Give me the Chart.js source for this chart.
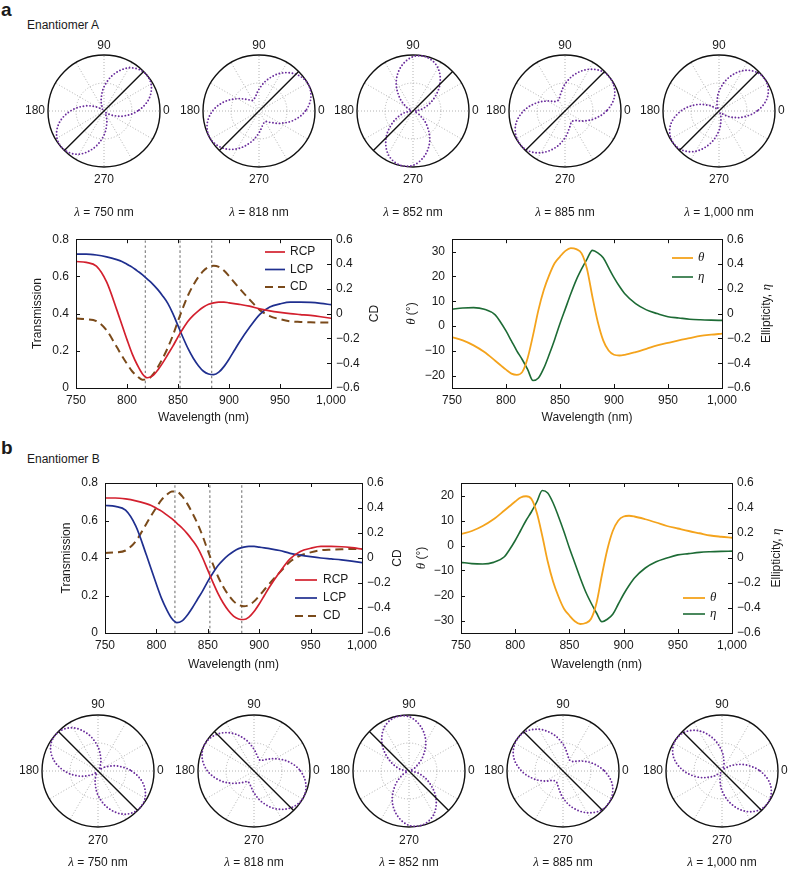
<!DOCTYPE html>
<html>
<head>
<meta charset="utf-8">
<script src="https://cdn.jsdelivr.net/npm/chart.js@4.4.0/dist/chart.umd.min.js"></script>
<style>
  body { margin: 0; background: #fff; }
  #fig { position: relative; width: 788px; height: 870px; overflow: hidden; background: #fff;
         font-family: "Liberation Sans", Arial, Helvetica, sans-serif; color: #1a1a1a; }
  #fig canvas { position: absolute; }
  .lbl { position: absolute; white-space: nowrap; line-height: 1; }
</style>
</head>
<body>
<div id="fig">
  <div class="lbl" style="left:1px;top:0px;font-size:19px;font-weight:bold">a</div>
  <div class="lbl" style="left:27px;top:19px;font-size:12px">Enantiomer A</div>
  <div class="lbl" style="left:1px;top:438px;font-size:19px;font-weight:bold">b</div>
  <div class="lbl" style="left:27px;top:453px;font-size:12px">Enantiomer B</div>
</div>
<script>
// ---- data ----
const wl = [750, 760, 770, 780, 790, 795, 800, 805, 810, 815, 820, 825, 830, 835, 840, 845, 850, 855, 860, 865,
            870, 875, 880, 885, 890, 895, 900, 905, 910, 920, 930, 940, 950, 960, 970, 980, 990, 1000];

// enantiomer A
const rcpA = [0.68, 0.675, 0.655, 0.57, 0.42, 0.34, 0.26, 0.185, 0.125, 0.077, 0.055, 0.065, 0.095, 0.135, 0.18, 0.225, 0.275, 0.32, 0.36, 0.39,
              0.415, 0.435, 0.45, 0.458, 0.462, 0.462, 0.458, 0.454, 0.45, 0.44, 0.425, 0.415, 0.407, 0.40, 0.395, 0.39, 0.383, 0.375];
const lcpA = [0.72, 0.72, 0.715, 0.705, 0.69, 0.68, 0.665, 0.65, 0.63, 0.61, 0.585, 0.56, 0.53, 0.495, 0.455, 0.40, 0.335, 0.27, 0.21, 0.16,
              0.12, 0.09, 0.075, 0.072, 0.085, 0.115, 0.155, 0.20, 0.245, 0.325, 0.395, 0.435, 0.452, 0.462, 0.462, 0.46, 0.455, 0.448];
const cdA = [-0.04, -0.045, -0.06, -0.135, -0.27, -0.34, -0.405, -0.465, -0.505, -0.533, -0.53, -0.495, -0.435, -0.36, -0.275, -0.175, -0.06, 0.05, 0.15, 0.23,
             0.295, 0.345, 0.375, 0.386, 0.377, 0.347, 0.303, 0.254, 0.205, 0.115, 0.03, -0.02, -0.045, -0.062, -0.067, -0.07, -0.072, -0.073];
const thetaA = [-4.5, -5.8, -7.8, -10.5, -14, -15.8, -17.6, -19.2, -19.7, -18.6, -13, -3.8, 6.4, 14.5, 20.5, 25.3, 28, 30.3, 31.4, 31,
                29.3, 23, 11.8, 1.6, -5.8, -9.9, -11.6, -11.9, -11.6, -10.5, -9.2, -7.8, -6.8, -5.8, -4.9, -4, -3.5, -3.1];
const etaA = [0.035, 0.045, 0.048, 0.035, -0.01, -0.07, -0.14, -0.22, -0.30, -0.37, -0.45, -0.54, -0.52, -0.44, -0.33, -0.21, -0.08, 0.04, 0.16, 0.27,
              0.36, 0.44, 0.51, 0.49, 0.45, 0.37, 0.29, 0.22, 0.16, 0.08, 0.03, 0, -0.025, -0.035, -0.045, -0.05, -0.053, -0.055];

// enantiomer B
const rcpB = [0.72, 0.72, 0.715, 0.705, 0.69, 0.68, 0.665, 0.65, 0.63, 0.61, 0.585, 0.56, 0.53, 0.495, 0.455, 0.40, 0.335, 0.27, 0.21, 0.16,
              0.12, 0.09, 0.075, 0.072, 0.085, 0.115, 0.155, 0.20, 0.245, 0.325, 0.395, 0.435, 0.452, 0.462, 0.462, 0.46, 0.455, 0.448];
const lcpB = [0.68, 0.675, 0.655, 0.57, 0.42, 0.34, 0.26, 0.185, 0.125, 0.077, 0.055, 0.065, 0.095, 0.135, 0.18, 0.225, 0.275, 0.32, 0.36, 0.39,
              0.415, 0.435, 0.45, 0.458, 0.462, 0.462, 0.458, 0.454, 0.45, 0.44, 0.425, 0.415, 0.407, 0.40, 0.395, 0.39, 0.383, 0.375];
const cdB = [0.04, 0.045, 0.06, 0.135, 0.27, 0.34, 0.405, 0.465, 0.505, 0.533, 0.53, 0.495, 0.435, 0.36, 0.275, 0.175, 0.06, -0.05, -0.15, -0.23,
             -0.295, -0.345, -0.375, -0.386, -0.377, -0.347, -0.303, -0.254, -0.205, -0.115, -0.03, 0.02, 0.045, 0.062, 0.067, 0.07, 0.072, 0.073];
const thetaB = [4.5, 5.8, 7.8, 10.5, 14, 15.8, 17.6, 19.2, 19.7, 18.6, 13, 3.8, -6.4, -14.5, -20.5, -25.3, -28, -30.3, -31.4, -31,
                -29.3, -23, -11.8, -1.6, 5.8, 9.9, 11.6, 11.9, 11.6, 10.5, 9.2, 7.8, 6.8, 5.8, 4.9, 4, 3.5, 3.1];
const etaB = [-0.035, -0.045, -0.048, -0.035, 0.01, 0.07, 0.14, 0.22, 0.30, 0.37, 0.45, 0.54, 0.52, 0.44, 0.33, 0.21, 0.08, -0.04, -0.16, -0.27,
              -0.36, -0.44, -0.51, -0.49, -0.45, -0.37, -0.29, -0.22, -0.16, -0.08, -0.03, 0, 0.025, 0.035, 0.045, 0.05, 0.053, 0.055];

const markerWl = [818, 852, 883];

// axes
const wlRange = [750, 1000];
const wlTicks = [750, 800, 850, 900, 950, 1000];
const transRange = [0, 0.8];
const transTicks = [0, 0.2, 0.4, 0.6, 0.8];
const cdRange = [-0.6, 0.6];
const cdTicks = [-0.6, -0.4, -0.2, 0, 0.2, 0.4, 0.6];
const thetaRangeA = [-25, 35];
const thetaTicksA = [-20, -10, 0, 10, 20, 30];
const thetaRangeB = [-35, 25];
const thetaTicksB = [-30, -20, -10, 0, 10, 20];
const etaRange = [-0.6, 0.6];
const etaTicks = [-0.6, -0.4, -0.2, 0, 0.2, 0.4, 0.6];

// polar plots: analyser angle (deg) and normalised transmitted intensity
const angles = [0, 15, 30, 45, 60, 75, 90, 105, 120, 135, 150, 165,
                180, 195, 210, 225, 240, 255, 270, 285, 300, 315, 330, 345];
const polarTickAngles = [0, 90, 180, 270];
const polarWl = [750, 818, 852, 885, 1000];
const polA750 = [0.60, 0.83, 0.97, 0.99, 0.89, 0.68, 0.43, 0.20, 0.06, 0.04, 0.14, 0.35,
                 0.60, 0.83, 0.97, 0.99, 0.89, 0.68, 0.43, 0.20, 0.06, 0.04, 0.14, 0.35];
const polA818 = [0.83, 0.96, 1.00, 0.93, 0.78, 0.58, 0.39, 0.26, 0.22, 0.29, 0.44, 0.64,
                 0.83, 0.96, 1.00, 0.93, 0.78, 0.58, 0.39, 0.26, 0.22, 0.29, 0.44, 0.64];
const polA852 = [0.05, 0.20, 0.42, 0.68, 0.89, 0.99, 0.97, 0.82, 0.60, 0.34, 0.13, 0.03,
                 0.05, 0.20, 0.42, 0.68, 0.89, 0.99, 0.97, 0.82, 0.60, 0.34, 0.13, 0.03];
const polA885 = [0.74, 0.91, 0.99, 0.98, 0.86, 0.68, 0.48, 0.31, 0.23, 0.24, 0.36, 0.54,
                 0.74, 0.91, 0.99, 0.98, 0.86, 0.68, 0.48, 0.31, 0.23, 0.24, 0.36, 0.54];
const polA1000 = [0.68, 0.89, 0.99, 0.97, 0.83, 0.60, 0.35, 0.14, 0.04, 0.06, 0.20, 0.43,
                  0.68, 0.89, 0.99, 0.97, 0.83, 0.60, 0.35, 0.14, 0.04, 0.06, 0.20, 0.43];
const polB750 = [0.60, 0.35, 0.14, 0.04, 0.06, 0.20, 0.43, 0.68, 0.89, 0.99, 0.97, 0.83,
                 0.60, 0.35, 0.14, 0.04, 0.06, 0.20, 0.43, 0.68, 0.89, 0.99, 0.97, 0.83];
const polB818 = [0.83, 0.64, 0.44, 0.29, 0.22, 0.26, 0.39, 0.58, 0.78, 0.93, 1.00, 0.96,
                 0.83, 0.64, 0.44, 0.29, 0.22, 0.26, 0.39, 0.58, 0.78, 0.93, 1.00, 0.96];
const polB852 = [0.05, 0.03, 0.13, 0.34, 0.60, 0.82, 0.97, 0.99, 0.89, 0.68, 0.42, 0.20,
                 0.05, 0.03, 0.13, 0.34, 0.60, 0.82, 0.97, 0.99, 0.89, 0.68, 0.42, 0.20];
const polB885 = [0.74, 0.54, 0.36, 0.24, 0.23, 0.31, 0.48, 0.68, 0.86, 0.98, 0.99, 0.91,
                 0.74, 0.54, 0.36, 0.24, 0.23, 0.31, 0.48, 0.68, 0.86, 0.98, 0.99, 0.91];
const polB1000 = [0.68, 0.43, 0.20, 0.06, 0.04, 0.14, 0.35, 0.60, 0.83, 0.97, 0.99, 0.89,
                  0.68, 0.43, 0.20, 0.06, 0.04, 0.14, 0.35, 0.60, 0.83, 0.97, 0.99, 0.89];
const refAxisA = 45;   // incident polarisation, degrees
const refAxisB = 135;

// ---- styling ----
const FONT = '"Liberation Sans", Arial, Helvetica, sans-serif';
const GREEK = '"Liberation Serif", "Times New Roman", serif';
const INK = '#1a1a1a';
const RED = '#d3202e', BLUE = '#1f2f8f', BROWN = '#7a4a1a', ORANGE = '#f4a31c', GREEN = '#1d6b35',
      PURPLE = '#6a2c9c', GREY = '#8c8c8c';

Chart.defaults.font.family = FONT;
Chart.defaults.font.size = 12;
Chart.defaults.color = INK;

const fig = document.getElementById('fig');

function mk(left, top, w, h) {
  const c = document.createElement('canvas');
  c.width = w; c.height = h;
  c.style.left = left + 'px'; c.style.top = top + 'px';
  c.style.width = w + 'px'; c.style.height = h + 'px';
  fig.appendChild(c);
  return c;
}

function fmt(v) {
  return (v < 0 ? '\u2212' : '') + Math.abs(v).toLocaleString('en-US');
}

// draw text made of plain / italic-greek parts
function drawParts(ctx, parts, x, y, align, rot) {
  const fontOf = p => p.g ? 'italic 13px ' + GREEK : '12px ' + FONT;
  ctx.save();
  ctx.translate(x, y);
  if (rot) ctx.rotate(rot);
  let w = 0;
  parts.forEach(p => { ctx.font = fontOf(p); w += ctx.measureText(p.t).width; });
  let cx = align === 'center' ? -w / 2 : (align === 'right' ? -w : 0);
  ctx.textAlign = 'left';
  ctx.textBaseline = 'middle';
  ctx.fillStyle = INK;
  parts.forEach(p => {
    ctx.font = fontOf(p);
    ctx.fillText(p.t, cx, 0);
    cx += ctx.measureText(p.t).width;
  });
  ctx.restore();
}

// box + inward ticks like the original figure
const frameTicks = {
  id: 'frameTicks',
  afterDatasetsDraw(chart) {
    const { ctx, chartArea: a } = chart;
    ctx.save();
    ctx.strokeStyle = '#111';
    ctx.lineWidth = 1;
    ctx.setLineDash([]);
    ctx.strokeRect(Math.round(a.left) + 0.5, Math.round(a.top) + 0.5,
                   Math.round(a.right - a.left), Math.round(a.bottom - a.top));
    ctx.beginPath();
    Object.values(chart.scales).forEach(s => {
      s.ticks.forEach(t => {
        const p = Math.round(s.getPixelForValue(t.value)) + 0.5;
        if (s.axis === 'x') {
          ctx.moveTo(p, a.bottom); ctx.lineTo(p, a.bottom - 4);
          ctx.moveTo(p, a.top); ctx.lineTo(p, a.top + 4);
        } else if (s.position === 'left') {
          ctx.moveTo(a.left, p); ctx.lineTo(a.left + 4, p);
        } else {
          ctx.moveTo(a.right, p); ctx.lineTo(a.right - 4, p);
        }
      });
    });
    ctx.stroke();
    ctx.restore();
  }
};

function titlesPlugin(t) {
  return {
    id: 'axisTitles',
    afterDraw(chart) {
      const { ctx, chartArea: a } = chart;
      const my = (a.top + a.bottom) / 2, mx = (a.left + a.right) / 2;
      drawParts(ctx, t.left, t.lx, my, 'center', -Math.PI / 2);
      drawParts(ctx, t.right, t.rx, my, 'center', -Math.PI / 2);
      drawParts(ctx, [{ t: 'Wavelength (nm)' }], mx, t.by, 'center', 0);
    }
  };
}

function legendPlugin(L) {
  return {
    id: 'cornerLegend',
    afterDraw(chart) {
      const ctx = chart.ctx;
      L.items.forEach((it, i) => {
        const ds = chart.data.datasets[it.ds];
        const y = L.y0 + i * L.dy;
        ctx.save();
        ctx.strokeStyle = ds.borderColor;
        ctx.lineWidth = ds.borderWidth || 1.6;
        ctx.setLineDash(ds.borderDash || []);
        ctx.beginPath();
        ctx.moveTo(L.x0, y); ctx.lineTo(L.x1, y);
        ctx.stroke();
        ctx.restore();
        drawParts(ctx, it.parts, L.tx, y, 'left', 0);
      });
    }
  };
}

function axis(pos, range, ticks, size, pad) {
  return {
    type: 'linear', position: pos, min: range[0], max: range[1],
    grid: { display: false, drawTicks: false },
    border: { display: false },
    ticks: { padding: pad, maxRotation: 0, autoSkip: false, color: INK, font: { size: 12 }, callback: v => fmt(v) },
    afterBuildTicks: s => { s.ticks = ticks.map(v => ({ value: v })); },
    afterFit: s => { if (s.isHorizontal()) s.height = size; else s.width = size; }
  };
}

function pts(xs, ys) {
  return xs.map((x, i) => ({ x: x, y: ys[i] }));
}

function markerSets() {
  return markerWl.map(w => ({
    data: [{ x: w, y: transRange[0] }, { x: w, y: transRange[1] }],
    yAxisID: 'y', borderColor: GREY, borderWidth: 1.3, borderDash: [2.5, 2.5]
  }));
}

function lineChart(box, sc, sets, titles, legend) {
  const cv = mk(box.left, box.top, box.w, box.h);
  return new Chart(cv, {
    type: 'line',
    data: { datasets: sets },
    options: {
      responsive: false, animation: false, events: [],
      layout: { padding: { top: box.pt, left: 0, right: 0, bottom: 0 } },
      plugins: { legend: { display: false }, tooltip: { enabled: false } },
      elements: { point: { radius: 0 }, line: { borderWidth: 1.6, cubicInterpolationMode: 'monotone' } },
      scales: {
        x: axis('bottom', wlRange, wlTicks, box.xh, 5),
        y: axis('left', sc.left, sc.leftTicks, box.lw, 7),
        y1: axis('right', sc.right, sc.rightTicks, box.rw, 5)
      }
    },
    plugins: [frameTicks, titlesPlugin(titles), legendPlugin(legend)]
  });
}

function transSets(rcp, lcp, cd) {
  return [
    { data: pts(wl, rcp), yAxisID: 'y', borderColor: RED, borderWidth: 1.7 },
    { data: pts(wl, lcp), yAxisID: 'y', borderColor: BLUE, borderWidth: 1.7 },
    { data: pts(wl, cd), yAxisID: 'y1', borderColor: BROWN, borderWidth: 2, borderDash: [8, 5] }
  ].concat(markerSets());
}

function rotSets(theta, eta) {
  return [
    { data: pts(wl, theta), yAxisID: 'y', borderColor: ORANGE, borderWidth: 1.8 },
    { data: pts(wl, eta), yAxisID: 'y1', borderColor: GREEN, borderWidth: 1.6 }
  ];
}

const transScales = { left: transRange, leftTicks: transTicks, right: cdRange, rightTicks: cdTicks };
const transTitles = (lx, rx, by) => ({ left: [{ t: 'Transmission' }], lx: lx, right: [{ t: 'CD' }], rx: rx, by: by });
const rotTitles = (lx, rx, by) => ({ left: [{ t: '\u03b8', g: true }, { t: ' (\u00b0)' }], lx: lx,
                                     right: [{ t: 'Ellipticity, ' }, { t: '\u03b7', g: true }], rx: rx, by: by });
const transLegend = [{ ds: 0, parts: [{ t: 'RCP' }] }, { ds: 1, parts: [{ t: 'LCP' }] }, { ds: 2, parts: [{ t: 'CD' }] }];
const rotLegend = [{ ds: 0, parts: [{ t: '\u03b8', g: true }] }, { ds: 1, parts: [{ t: '\u03b7', g: true }] }];

// panel a
lineChart({ left: 0, top: 225, w: 390, h: 200, pt: 14, lw: 76, rw: 59, xh: 37 },
  transScales, transSets(rcpA, lcpA, cdA), transTitles(38, 375, 193),
  { x0: 265, x1: 285, tx: 290, y0: 27, dy: 17.5, items: transLegend });
lineChart({ left: 390, top: 225, w: 398, h: 200, pt: 14, lw: 62, rw: 66, xh: 37 },
  { left: thetaRangeA, leftTicks: thetaTicksA, right: etaRange, rightTicks: etaTicks },
  rotSets(thetaA, etaA), rotTitles(22, 377, 193),
  { x0: 282, x1: 303, tx: 308, y0: 33, dy: 19, items: rotLegend });

// panel b
lineChart({ left: 0, top: 465, w: 410, h: 210, pt: 18, lw: 105, rw: 48, xh: 42 },
  transScales, transSets(rcpB, lcpB, cdB), transTitles(67, 398, 200),
  { x0: 295, x1: 317, tx: 323, y0: 115, dy: 18, items: transLegend });
lineChart({ left: 390, top: 465, w: 398, h: 210, pt: 18, lw: 71, rw: 56, xh: 42 },
  { left: thetaRangeB, leftTicks: thetaTicksB, right: etaRange, rightTicks: etaTicks },
  rotSets(thetaB, etaB), rotTitles(32, 387, 200),
  { x0: 293, x1: 315, tx: 320, y0: 133, dy: 16, items: rotLegend });

// ---- polar plots ----
function polarText(wlVal, row) {
  return {
    id: 'polarText',
    afterDraw(chart) {
      const r = chart.scales.r, ctx = chart.ctx;
      const R = r.drawingArea, cx = r.xCenter, cy = r.yCenter;
      polarTickAngles.forEach(a => {
        const txt = [{ t: String(a) }];
        if (a === 0) drawParts(ctx, txt, cx + R + 3, cy, 'left', 0);
        else if (a === 180) drawParts(ctx, txt, cx - R - 3, cy, 'right', 0);
        else if (a === 90) drawParts(ctx, txt, cx, cy - R - row.t90, 'center', 0);
        else drawParts(ctx, txt, cx, cy + R + row.t270, 'center', 0);
      });
      drawParts(ctx, [{ t: '\u03bb', g: true }, { t: ' = ' + wlVal.toLocaleString('en-US') + ' nm' }],
                cx, cy + R + row.cap, 'center', 0);
    }
  };
}

// radar draws clockwise from the start angle; reorder so angles run counter-clockwise from 0 at the right
const order = angles.map((_, k) => (angles.length - k) % angles.length);

function polarChart(cx, cy, vals, refAxis, wlVal, row) {
  const cv = mk(cx - 78, cy - 80, 156, row.h);
  const ref = angles.map(a => (a === refAxis || a === refAxis + 180) ? 1 : null);
  return new Chart(cv, {
    type: 'radar',
    data: {
      labels: order.map(i => angles[i]),
      datasets: [
        { data: order.map(i => ref[i]), borderColor: '#111', borderWidth: 1.4, tension: 0,
          spanGaps: true, fill: false, pointRadius: 0 },
        { data: order.map(i => vals[i]), borderColor: PURPLE, borderWidth: 1.9, borderDash: [0, 3.3],
          borderCapStyle: 'round', tension: 0.35, fill: false, pointRadius: 0 }
      ]
    },
    options: {
      responsive: false, animation: false, events: [],
      layout: { padding: { left: 22, right: 22, top: 24, bottom: row.h - 24 - 112 } },
      plugins: { legend: { display: false }, tooltip: { enabled: false } },
      scales: {
        r: {
          min: 0, max: 1, startAngle: 90,
          ticks: { display: false, stepSize: 0.5 },
          pointLabels: { display: false },
          grid: {
            circular: true,
            color: c => (c.tick && c.tick.value >= 1) ? '#111' : '#a9a9a9',
            lineWidth: c => (c.tick && c.tick.value >= 1) ? 1.4 : 0.9
          },
          border: { dash: c => (c.tick && c.tick.value >= 1) ? [] : [1, 2] },
          angleLines: { color: '#a9a9a9', lineWidth: c => (c.index % 2 === 0) ? 0.9 : 0, borderDash: [1, 2] }
        }
      }
    },
    plugins: [polarText(wlVal, row)]
  });
}

const topRow = { h: 190, t90: 9, t270: 13, cap: 46 };
const botRow = { h: 179, t90: 10, t270: 14, cap: 36 };
const topX = [104, 259, 413, 565, 719];
const botX = [98, 254, 409, 563, 722];
[polA750, polA818, polA852, polA885, polA1000].forEach((v, i) =>
  polarChart(topX[i], 111, v, refAxisA, polarWl[i], topRow));
[polB750, polB818, polB852, polB885, polB1000].forEach((v, i) =>
  polarChart(botX[i], 771, v, refAxisB, polarWl[i], botRow));
</script>
</body>
</html>
